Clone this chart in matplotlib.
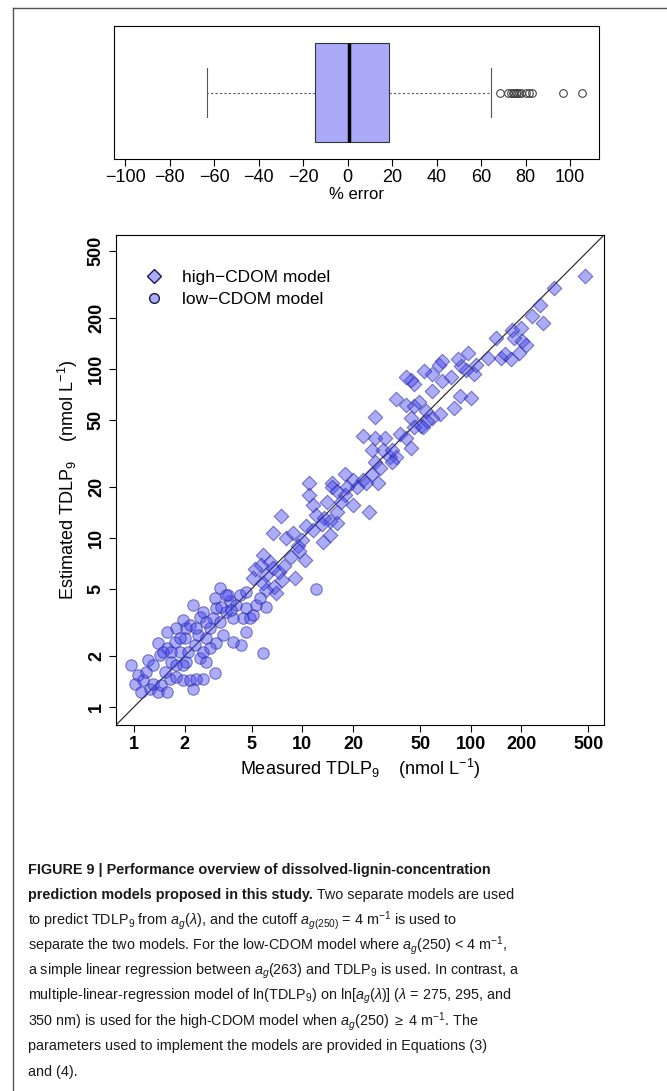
import matplotlib
matplotlib.use("Agg")
import matplotlib.pyplot as plt
from matplotlib.lines import Line2D
from matplotlib.ticker import FixedLocator, NullLocator

plt.rcParams["font.family"] = ["Liberation Sans", "DejaVu Sans"]
plt.rcParams["mathtext.fontset"] = "custom"
plt.rcParams["mathtext.rm"] = "Liberation Sans"
plt.rcParams["mathtext.it"] = "Liberation Sans:italic"
plt.rcParams["mathtext.bf"] = "Liberation Sans:bold"

# ---- box plot summary (% error) ----
err_q1, err_med, err_q3 = -14.6, 0.5, 18.7
err_whislo, err_whishi = -63, 64.5
err_fliers = [68.5, 72, 73.5, 74.5, 75, 75.5, 76, 77, 78, 80, 81.5, 83, 97, 105.5]
err_ticks = [-100, -80, -60, -40, -20, 0, 20, 40, 60, 80, 100]

# ---- high-CDOM model (diamonds): measured, estimated ----
high_meas = [476, 312, 260, 232, 270, 177, 198, 181, 202, 212, 141,
             126, 151, 161, 194, 173, 96, 107, 105, 94, 88, 84,
             65, 68, 59, 68, 76, 53, 46, 44, 41, 36, 59,
             86, 100, 80, 66, 59, 41, 46, 49, 54, 44, 51, 55, 46, 52,
             27, 23, 27, 31, 38, 41, 44,
             26, 30, 33, 36, 34, 27, 26, 29, 34,
             18, 20, 23, 24, 28, 21, 25,
             15, 15, 16, 18.5, 18, 20, 17,
             11, 11, 11.5, 14, 12, 13.5, 14.5, 16, 13, 16,
             14.5, 13.2, 10.5, 11.5,
             7.5, 6.7, 8, 8.8, 10, 9.4, 9.6, 8.6, 10.3,
             5.8, 6.4, 5.7, 6.7, 7.3, 7.8, 6.1, 5.2, 7.6, 9,
             5.1, 5.8, 6.8, 7.0, 6.1]
high_est = [354, 302, 238, 205, 187, 171, 175, 153, 146, 139, 153,
            116, 116, 122, 124, 114, 124, 106, 93, 99, 104, 114,
            106, 111, 93, 85, 89, 97, 81, 86, 89, 66, 74,
            69, 67, 59, 54, 51, 61, 60, 64, 56, 51, 46, 49, 45, 45,
            52, 40, 39, 39, 41, 39, 34,
            33, 33, 30, 30, 28, 28, 24, 26, 33,
            24, 22, 22, 21, 21, 20, 14.3,
            21, 20, 19, 20, 18, 15.7, 16.4,
            21, 18, 15.7, 16.4, 13.7, 13.1, 12.5, 12.2, 12, 14.3,
            10.4, 9.5, 11.7, 11.1,
            13.4, 10.7, 10, 10.7, 9.7, 8.9, 8.3, 7.7, 7.4,
            7.9, 7.2, 6.9, 6.6, 6.3, 6.8, 6.0, 6.5, 5.6, 5.8,
            5.8, 5.4, 5.1, 4.7, 4.9]

# ---- low-CDOM model (circles): measured, estimated ----
low_meas = [12, 5.8, 0.96, 1.06, 1.01, 1.13, 1.21, 1.24, 1.10, 1.39, 1.30,
            1.45, 1.56, 1.63, 1.52, 1.78, 1.95, 2.24, 2.14, 2.56, 3.01, 2.34,
            1.42, 1.56, 1.66, 1.78, 1.87, 1.74, 2.0, 2.04, 2.09, 2.29, 2.40,
            2.45, 2.56, 2.68, 2.81, 2.94, 2.56, 3.08, 3.22, 3.37, 3.53, 3.69,
            3.86, 4.04, 4.23, 3.61, 4.63, 4.43, 4.85, 5.08, 4.63, 5.31, 5.56,
            6.09, 4.33, 3.86, 3.08, 2.81, 2.04, 2.24, 2.45, 1.95, 2.14, 1.78,
            1.56, 1.39, 1.49, 3.01, 3.22, 3.53, 4.63, 2.68, 1.87, 1.66, 1.30,
            1.18, 1.95, 2.68, 2.34, 3.30, 3.78]
low_est = [5.0, 2.07, 1.77, 1.54, 1.37, 1.44, 1.89, 1.28, 1.23, 1.23, 1.37,
           1.34, 1.23, 1.47, 1.61, 1.51, 1.44, 1.28, 1.44, 1.47, 1.58, 1.47,
           2.02, 2.22, 1.85, 1.77, 2.12, 2.43, 2.54, 2.91, 2.12, 2.32, 2.66,
           1.94, 2.12, 2.54, 2.91, 3.34, 3.66, 3.83, 3.19, 2.66, 3.66, 4.2,
           3.34, 4.0, 4.59, 4.59, 3.83, 3.34, 3.34, 3.5, 2.78, 4.0, 4.39,
           3.91, 2.32, 2.43, 2.37, 2.22, 1.85, 4.0, 3.42, 3.27, 3.05, 2.91,
           2.78, 2.37, 2.12, 4.39, 5.03, 4.59, 4.81, 3.19, 2.54, 2.12, 1.77,
           1.61, 1.77, 1.85, 2.91, 3.91, 3.74]

log_ticks = [1, 2, 5, 10, 20, 50, 100, 200, 500]

fig = plt.figure(figsize=(6.67, 10.91), dpi=100)

# panel frame (left and top rule)
fig.add_artist(Line2D([13 / 667, 13 / 667], [0, 1 - 8 / 1091], color="#555555", lw=1))
fig.add_artist(Line2D([13 / 667, 1], [1 - 8 / 1091, 1 - 8 / 1091], color="#555555", lw=1))

# ---- box plot ----
axb = fig.add_axes([114 / 667, 1 - 159 / 1091, 485 / 667, 133 / 1091])
stats = [dict(med=err_med, q1=err_q1, q3=err_q3, whislo=err_whislo,
              whishi=err_whishi, fliers=err_fliers)]
axb.bxp(stats, orientation="horizontal", widths=0.75, capwidths=0.375,
        patch_artist=True,
        boxprops=dict(facecolor="#aaaaf8", edgecolor="#333333", lw=0.8),
        medianprops=dict(color="black", lw=2.5),
        whiskerprops=dict(color="#555555", lw=0.8, ls=(0, (2, 2))),
        capprops=dict(color="#555555", lw=0.8),
        flierprops=dict(marker="o", mfc="none", mec="#444444", ms=5.5, mew=0.8))
axb.set_xlim(-105, 113)
axb.set_ylim(0.5, 1.5)
axb.set_yticks([])
axb.set_xticks(err_ticks)
axb.set_xticklabels([str(t).replace("-", "\u2212") for t in err_ticks], fontsize=13)
axb.tick_params(axis="x", length=5, pad=2)
axb.set_xlabel("% error", fontsize=12, labelpad=1)

# ---- scatter ----
ax = fig.add_axes([116 / 667, 1 - 725 / 1091, 488 / 667, 490 / 1091])
ax.set_xscale("log")
ax.set_yscale("log")
lim = (0.78, 620)
ax.set_xlim(lim)
ax.set_ylim(lim)
ax.plot(lim, lim, color="#333333", lw=0.9, zorder=1)
fc = (0.28, 0.28, 0.95, 0.45)
ec = (0.15, 0.15, 0.6, 0.55)
ax.scatter(high_meas, high_est, marker="D", s=55, facecolor=fc, edgecolor=ec,
           lw=0.8, zorder=2)
ax.scatter(low_meas, low_est, marker="o", s=68, facecolor=fc, edgecolor=ec,
           lw=0.8, zorder=2)
for a in (ax.xaxis, ax.yaxis):
    a.set_major_locator(FixedLocator(log_ticks))
    a.set_minor_locator(NullLocator())
ax.set_xticklabels([str(t) for t in log_ticks], fontsize=13, fontweight="bold")
ax.set_yticklabels([str(t) for t in log_ticks], fontsize=13, fontweight="bold",
                   rotation=90, va="center")
ax.tick_params(length=5, pad=3)
ax.set_xlabel("Measured TDLP$_9$    (nmol L$^{-1}$)", fontsize=13, labelpad=3)
ax.set_ylabel("Estimated TDLP$_9$    (nmol L$^{-1}$)", fontsize=13, labelpad=6)

legend_items = [
    Line2D([], [], marker="D", ls="none", ms=7, mfc=fc, mec=(0.1, 0.1, 0.3), label="high\u2212CDOM model"),
    Line2D([], [], marker="o", ls="none", ms=7, mfc=fc, mec=(0.1, 0.1, 0.3), label="low\u2212CDOM model"),
]
ax.legend(handles=legend_items, loc="upper left", frameon=False, fontsize=12.5,
          bbox_to_anchor=(0.01, 0.96), handletextpad=0.6, borderaxespad=0.5,
          labelspacing=0.35)

# ---- caption ----
renderer = fig.canvas.get_renderer()
cap_x = 28 / 667
cap_fs = 10.4


def put(x, y, s, **kw):
    t = fig.text(x, y, s, fontsize=cap_fs, va="baseline", color="#1a1a1a", **kw)
    return t


lines = [
    [("FIGURE 9 | Performance overview of dissolved-lignin-concentration", "bold")],
    [("prediction models proposed in this study.", "bold"),
     (" Two separate models are used", "normal")],
    [(r"to predict TDLP$_9$ from $a_g(\lambda)$, and the cutoff $a_{g(250)}$ = 4 m$^{-1}$ is used to", "normal")],
    [(r"separate the two models. For the low-CDOM model where $a_g$(250) < 4 m$^{-1}$,", "normal")],
    [(r"a simple linear regression between $a_g$(263) and TDLP$_9$ is used. In contrast, a", "normal")],
    [(r"multiple-linear-regression model of ln(TDLP$_9$) on ln[$a_g(\lambda)$] ($\lambda$ = 275, 295, and", "normal")],
    [(r"350 nm) is used for the high-CDOM model when $a_g$(250) $\geq$ 4 m$^{-1}$. The", "normal")],
    [("parameters used to implement the models are provided in Equations (3)", "normal")],
    [("and (4).", "normal")],
]
y0 = 874
for i, parts in enumerate(lines):
    x = cap_x
    y = 1 - (y0 + i * 25.2) / 1091
    for s, w in parts:
        t = put(x, y, s, fontweight=w)
        bb = t.get_window_extent(renderer)
        x = bb.x1 / fig.bbox.width

fig.savefig("out.png", dpi=100)
